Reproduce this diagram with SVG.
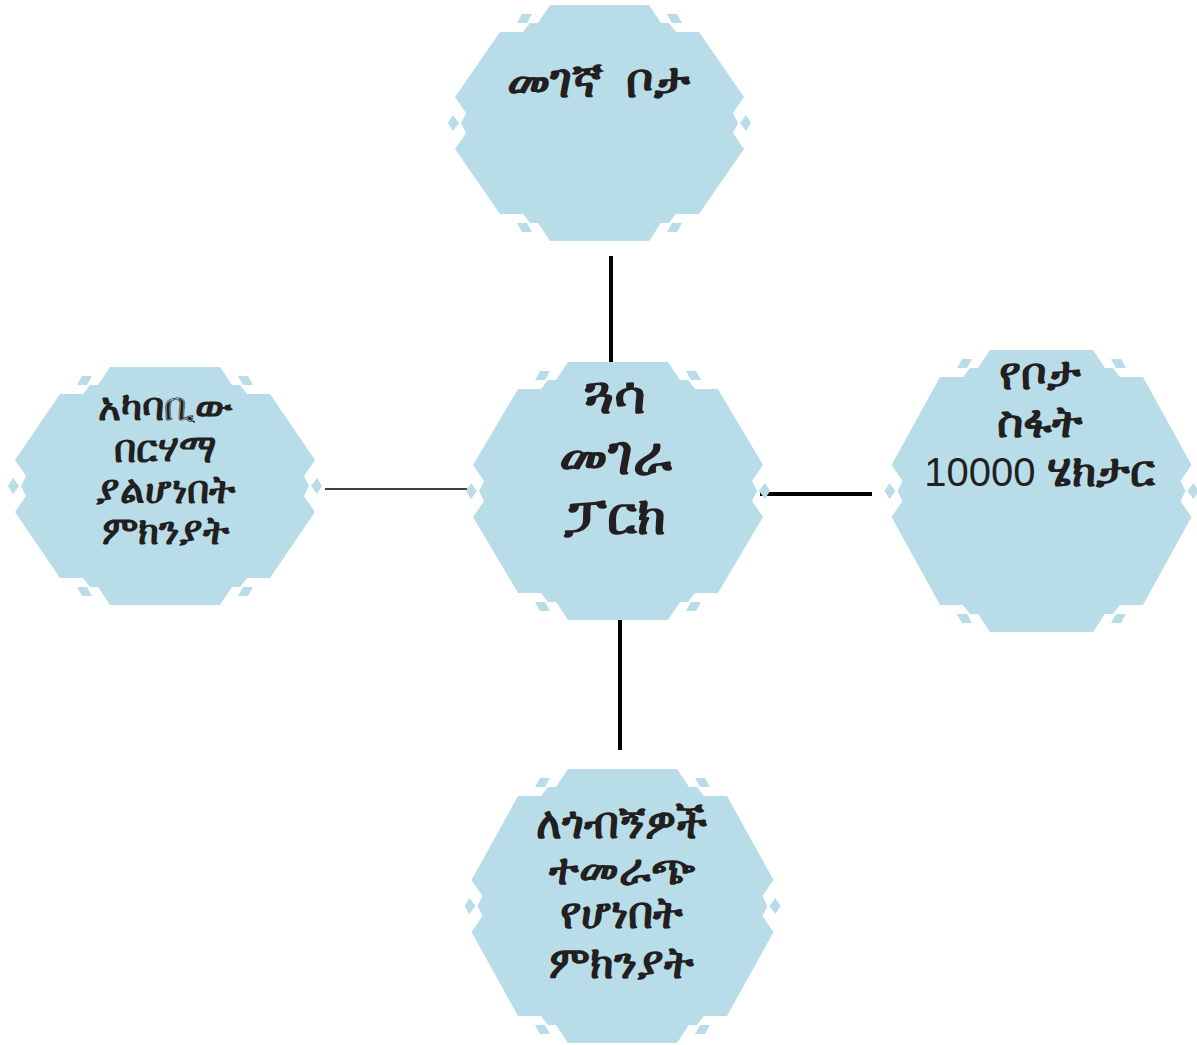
<svg xmlns="http://www.w3.org/2000/svg" width="1197" height="1045" viewBox="0 0 1197 1045">
<style>
.hex{fill:#b8dde8}
.t{font-family:"Noto Sans","DejaVu Sans","Liberation Sans",sans-serif;font-weight:bold;fill:#231f20;text-anchor:middle}
.n{font-family:"Liberation Sans",sans-serif;font-weight:normal}
.c{stroke:#000;fill:none}
</style>
<rect width="1197" height="1045" fill="#fff"/>
<g id="connectors">
<line class="c" x1="611" y1="256" x2="611" y2="362" stroke-width="4"/>
<line class="c" x1="325" y1="489" x2="467" y2="489" stroke-width="1.5"/>
<line class="c" x1="760" y1="494" x2="872" y2="494" stroke-width="4"/>
<line class="c" x1="620" y1="620" x2="620" y2="750" stroke-width="4"/>
</g>
<g id="node-top" transform="translate(599.5,123)">
<path class="hex" d="M-49.5,-118 L49.5,-118 L61.5,-100 L69.5,-100 L76.5,-91 L99.5,-91 L144.5,-26 L133.5,-10 L138.5,0 L133.5,10 L144.5,26 L99.5,91 L76.5,91 L69.5,100 L61.5,100 L49.5,118 L-49.5,118 L-61.5,100 L-69.5,100 L-76.5,91 L-99.5,91 L-144.5,26 L-133.5,10 L-138.5,0 L-133.5,-10 L-144.5,-26 L-99.5,-91 L-76.5,-91 L-69.5,-100 L-61.5,-100 Z"/>
<path class="hex" d="M-77.5,-109 L-67.5,-109 L-72.5,-100 L-82.5,-100 Z M67.5,-109 L77.5,-109 L82.5,-100 L72.5,-100 Z M-82.5,100 L-72.5,100 L-67.5,109 L-77.5,109 Z M72.5,100 L82.5,100 L77.5,109 L67.5,109 Z M-151.5,0 L-146.5,-8 L-140.5,0 L-146.5,8 Z M151.5,0 L146.5,-8 L140.5,0 L146.5,8 Z"/>
<text class="t" x="-1" y="-26" font-size="48" word-spacing="10">መገኛ ቦታ</text>
</g>
<g id="node-left" transform="translate(165,486)">
<path class="hex" d="M-55,-119 L55,-119 L67,-101 L75,-101 L82,-92 L105,-92 L150,-26 L139,-10 L144,0 L139,10 L150,26 L105,92 L82,92 L75,101 L67,101 L55,119 L-55,119 L-67,101 L-75,101 L-82,92 L-105,92 L-150,26 L-139,10 L-144,0 L-139,-10 L-150,-26 L-105,-92 L-82,-92 L-75,-101 L-67,-101 Z"/>
<path class="hex" d="M-83,-110 L-73,-110 L-78,-101 L-88,-101 Z M73,-110 L83,-110 L88,-101 L78,-101 Z M-88,101 L-78,101 L-73,110 L-83,110 Z M78,101 L88,101 L83,110 L73,110 Z M-157,0 L-152,-8 L-146,0 L-152,8 Z M157,0 L152,-8 L146,0 L152,8 Z"/>
<text class="t" font-size="39"><tspan x="0" y="-66">አካባቢው</tspan><tspan x="0" y="-24">በርሃማ</tspan><tspan x="0" y="17">ያልሆነበት</tspan><tspan x="0" y="58">ምክንያት</tspan></text>
</g>
<g id="node-center" transform="translate(618,491)">
<path class="hex" d="M-50,-129 L50,-129 L62,-111 L70,-111 L77,-102 L100,-102 L145,-26 L134,-10 L139,0 L134,10 L145,26 L100,102 L77,102 L70,111 L62,111 L50,129 L-50,129 L-62,111 L-70,111 L-77,102 L-100,102 L-145,26 L-134,10 L-139,0 L-134,-10 L-145,-26 L-100,-102 L-77,-102 L-70,-111 L-62,-111 Z"/>
<path class="hex" d="M-78,-120 L-68,-120 L-73,-111 L-83,-111 Z M68,-120 L78,-120 L83,-111 L73,-111 Z M-83,111 L-73,111 L-68,120 L-78,120 Z M73,111 L83,111 L78,120 L68,120 Z M-152,0 L-147,-8 L-141,0 L-147,8 Z M152,0 L147,-8 L141,0 L147,8 Z"/>
<text class="t" font-size="54"><tspan x="-3" y="-78">ጓሳ</tspan><tspan x="-3" y="-17">መገራ</tspan><tspan x="-3" y="43">ፓርክ</tspan></text>
</g>
<g id="node-right" transform="translate(1041.5,491)">
<path class="hex" d="M-51.5,-141 L51.5,-141 L63.5,-123 L71.5,-123 L78.5,-114 L101.5,-114 L150,-26 L139,-10 L144,0 L139,10 L150,26 L101.5,114 L78.5,114 L71.5,123 L63.5,123 L51.5,141 L-51.5,141 L-63.5,123 L-71.5,123 L-78.5,114 L-101.5,114 L-150,26 L-139,10 L-144,0 L-139,-10 L-150,-26 L-101.5,-114 L-78.5,-114 L-71.5,-123 L-63.5,-123 Z"/>
<path class="hex" d="M-79.5,-132 L-69.5,-132 L-74.5,-123 L-84.5,-123 Z M69.5,-132 L79.5,-132 L84.5,-123 L74.5,-123 Z M-84.5,123 L-74.5,123 L-69.5,132 L-79.5,132 Z M74.5,123 L84.5,123 L79.5,132 L69.5,132 Z M-157,0 L-152,-8 L-146,0 L-152,8 Z M157,0 L152,-8 L146,0 L152,8 Z"/>
<text class="t" font-size="45"><tspan x="-2" y="-102">የቦታ</tspan><tspan x="-2" y="-54">ስፋት</tspan><tspan x="-2" y="-5"><tspan class="n" font-size="40">10000 </tspan> ሄክታር</tspan></text>
</g>
<g id="node-bottom" transform="translate(622.5,906)">
<path class="hex" d="M-54.5,-137 L54.5,-137 L66.5,-119 L74.5,-119 L81.5,-110 L104.5,-110 L151,-26 L140,-10 L145,0 L140,10 L151,26 L104.5,110 L81.5,110 L74.5,119 L66.5,119 L54.5,137 L-54.5,137 L-66.5,119 L-74.5,119 L-81.5,110 L-104.5,110 L-151,26 L-140,10 L-145,0 L-140,-10 L-151,-26 L-104.5,-110 L-81.5,-110 L-74.5,-119 L-66.5,-119 Z"/>
<path class="hex" d="M-82.5,-128 L-72.5,-128 L-77.5,-119 L-87.5,-119 Z M72.5,-128 L82.5,-128 L87.5,-119 L77.5,-119 Z M-87.5,119 L-77.5,119 L-72.5,128 L-82.5,128 Z M77.5,119 L87.5,119 L82.5,128 L72.5,128 Z M-158,0 L-153,-8 L-147,0 L-153,8 Z M158,0 L153,-8 L147,0 L153,8 Z"/>
<text class="t" font-size="44"><tspan x="-1" y="-68">ለጎብኝዎች</tspan><tspan x="-1" y="-22">ተመራጭ</tspan><tspan x="-1" y="22">የሆነበት</tspan><tspan x="-1" y="72">ምክንያት</tspan></text>
</g>
</svg>
